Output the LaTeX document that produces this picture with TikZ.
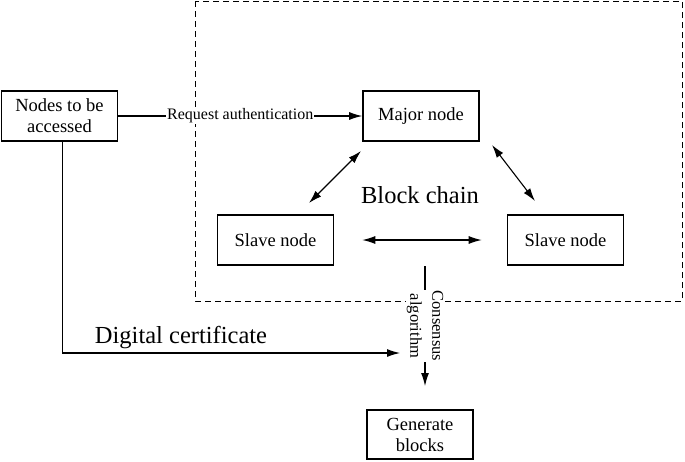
\documentclass[tikz,border=0pt]{standalone}
\usepackage{fontspec}
\setmainfont{Liberation Serif}
\usetikzlibrary{arrows.meta}
\tikzset{>={Latex[length=13pt,width=8pt]}}
\tikzset{
  box/.style = {draw, line width=1.6pt, minimum width=116pt, minimum height=50pt,
    align=center, inner sep=2pt, font=\fontsize{18.5}{21}\selectfont},
  conn/.style = {line width=1.1pt},
  lbl/.style = {fill=white, inner sep=1pt, font=\fontsize{16}{18}\selectfont},
  big/.style = {inner sep=0pt, font=\fontsize{24.5}{28}\selectfont}
}

\begin{document}
\begin{tikzpicture}[x=1pt,y=-1pt]
  \useasboundingbox (0,0) rectangle (685,461);
  % block chain area
  \draw[dash pattern=on 6pt off 4pt, line width=0.9pt] (195,1) rectangle (682,301);
  \node[box] (access) at (59.5,116) {Nodes to be\\accessed};
  \node[box] (major) at (421,116) {Major node};
  \node[box] (slaveL) at (275.5,240) {Slave node};
  \node[box] (slaveR) at (565.5,240) {Slave node};
  \node[box, minimum width=106pt, minimum height=49pt] (gen) at (420,434.5) {Generate\\blocks};
  \node[big] (chain) at (420,195) {Block chain};
  \node[big] (cert) at (181,338) {Digital certificate};
  \coordinate (majL) at (361,151);
  \coordinate (slvL) at (309,203);
  \coordinate (majR) at (492,145);
  \coordinate (slvR) at (535,201);
  \coordinate (constop) at (425,266);
  \coordinate (consend) at (425,386);
  \coordinate (certend) at (400,353);
  % arrows
  \draw[conn,->] (access.east) -- node[lbl] {Request authentication} (major.west);
  \draw[conn,<->] (majL) -- (slvL);
  \draw[conn,<->] (majR) -- (slvR);
  \draw[conn,<->,shorten <=28pt,shorten >=25pt] (slaveL.east) -- (slaveR.west);
  \draw[conn,->] (constop) -- node[rotate=-90, fill=white, inner sep=1pt, align=center,
    font=\fontsize{16.5}{22}\selectfont] (cons) {Consensus\\algorithm} (consend);
  \draw[conn,->] ([xshift=3pt]access.south) |- (certend);
\end{tikzpicture}
\end{document}
